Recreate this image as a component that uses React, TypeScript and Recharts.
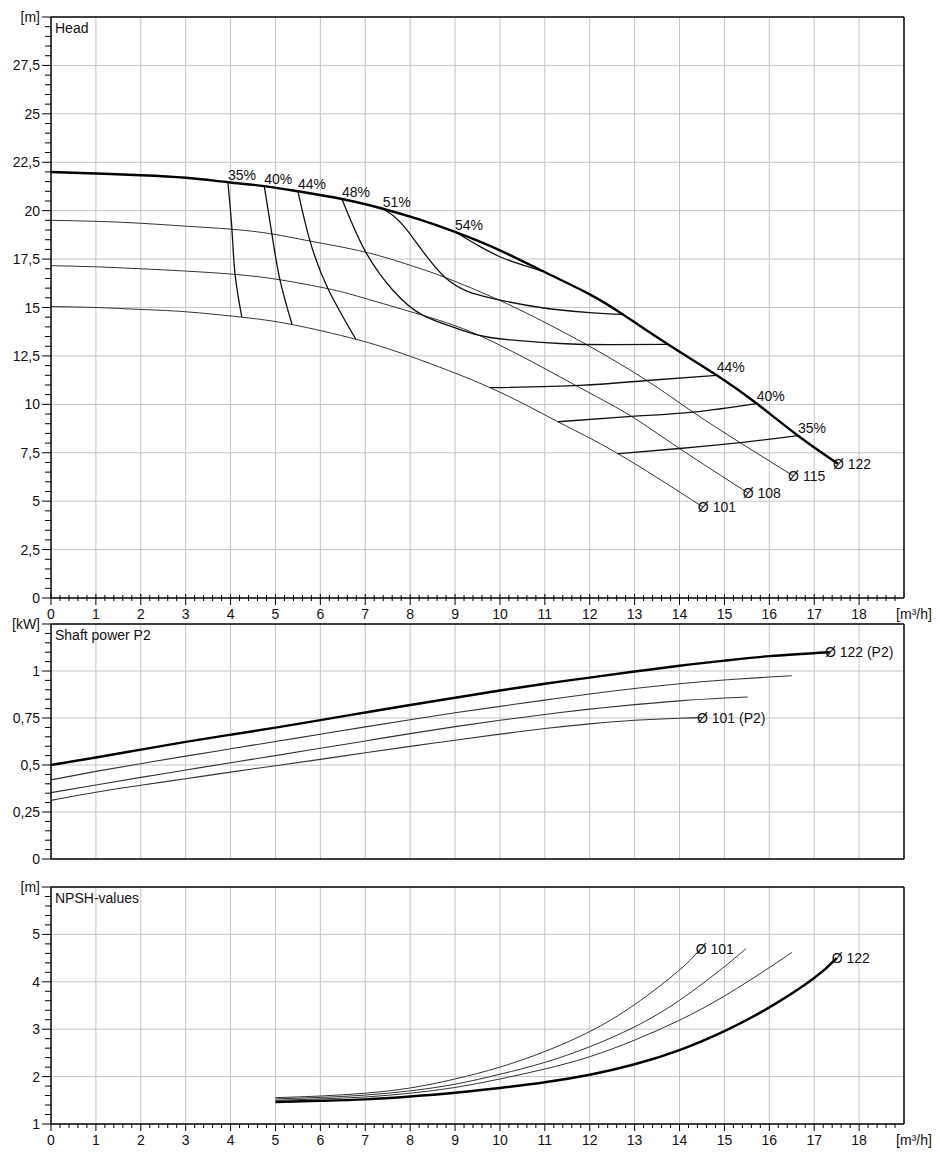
import { LineChart, Line, XAxis, YAxis, CartesianGrid, ReferenceLine } from "recharts"

type Pt = [number, number]

// Q [m³/h] -> H [m], impeller diameters
const HEAD_122: Pt[] = [[0, 22], [1, 21.92], [2, 21.83], [3, 21.7], [3.94, 21.47], [4.75, 21.27], [5.5, 21.0], [6.48, 20.6], [7.39, 20.1], [8.2, 19.55], [9, 18.9], [10, 17.95], [10.96, 16.87], [12, 15.68], [12.74, 14.64], [13.74, 13.1], [14.83, 11.5], [15.72, 10.04], [16.64, 8.38], [17.53, 6.93]]
const HEAD_115: Pt[] = [[0, 19.5], [1, 19.45], [2, 19.35], [3, 19.2], [4.03, 19.04], [4.92, 18.8], [5.77, 18.43], [7, 17.86], [8, 17.18], [8.78, 16.55], [10, 15.36], [11.05, 14.17], [12.07, 12.9], [13.27, 11.23], [14.3, 9.6], [15.35, 8.02], [16.53, 6.31]]
const HEAD_108: Pt[] = [[0, 17.16], [1, 17.1], [2, 17.0], [3, 16.88], [4.1, 16.71], [5.1, 16.43], [6.17, 15.97], [6.95, 15.5], [8.29, 14.59], [9.78, 13.3], [11.78, 10.86], [12.93, 9.38], [14, 7.72], [15.52, 5.43]]
const HEAD_101: Pt[] = [[0, 15.05], [1, 15.0], [2, 14.9], [3, 14.78], [4.25, 14.5], [5.37, 14.12], [6.79, 13.36], [8, 12.48], [9.78, 10.86], [11.29, 9.1], [12.63, 7.45], [14.52, 4.7]]

// efficiency iso-lines
const EFF_35_L: Pt[] = [[3.94, 21.47], [4.03, 19.04], [4.1, 16.71], [4.25, 14.5]]
const EFF_40_L: Pt[] = [[4.75, 21.27], [4.92, 18.8], [5.1, 16.43], [5.37, 14.12]]
const EFF_44_L: Pt[] = [[5.5, 21.0], [5.77, 18.43], [6.17, 15.97], [6.79, 13.36]]
const EFF_48: Pt[] = [[6.48, 20.6], [6.99, 17.95], [7.62, 15.88], [8.29, 14.59], [9.04, 13.92], [9.78, 13.45], [11.34, 13.14], [12.5, 13.08], [13.74, 13.1]]
const EFF_51: Pt[] = [[7.39, 20.1], [7.93, 19.0], [8.78, 16.55], [9.78, 15.5], [10.9, 15.0], [12.0, 14.74], [12.74, 14.64]]
const EFF_54: Pt[] = [[9.0, 18.9], [9.5, 18.22], [10.0, 17.62], [10.5, 17.2], [10.96, 16.87]]
const EFF_44_R: Pt[] = [[9.78, 10.86], [11.78, 10.98], [13.27, 11.23], [14.83, 11.5]]
const EFF_40_R: Pt[] = [[11.29, 9.1], [12.93, 9.38], [14.3, 9.6], [15.72, 10.04]]
const EFF_35_R: Pt[] = [[12.63, 7.45], [14.0, 7.72], [15.35, 8.02], [16.64, 8.38]]

// shaft power P2 [kW]
const P2_122: Pt[] = [[0, 0.5], [1, 0.54], [2, 0.582], [3, 0.623], [4, 0.661], [5, 0.699], [6, 0.739], [7, 0.779], [8, 0.819], [9, 0.858], [10, 0.896], [11, 0.932], [12, 0.965], [13, 0.997], [14, 1.028], [15, 1.055], [16, 1.079], [17.35, 1.1]]
const P2_115: Pt[] = [[0, 0.421], [1, 0.466], [2, 0.507], [3, 0.547], [4, 0.586], [5, 0.625], [6, 0.664], [7, 0.703], [8, 0.741], [9, 0.778], [10, 0.812], [11, 0.845], [12, 0.878], [13, 0.907], [14, 0.932], [15, 0.952], [16, 0.968], [16.5, 0.975]]
const P2_108: Pt[] = [[0, 0.353], [1, 0.394], [2, 0.434], [3, 0.473], [4, 0.512], [5, 0.55], [6, 0.589], [7, 0.628], [8, 0.667], [9, 0.704], [10, 0.738], [11, 0.769], [12, 0.797], [13, 0.821], [14, 0.841], [15, 0.856], [15.52, 0.862]]
const P2_101: Pt[] = [[0, 0.312], [1, 0.355], [2, 0.392], [3, 0.427], [4, 0.462], [5, 0.496], [6, 0.53], [7, 0.565], [8, 0.599], [9, 0.632], [10, 0.664], [11, 0.694], [12, 0.719], [13, 0.738], [14, 0.749], [14.5, 0.752]]

// NPSH [m]
const NPSH_122: Pt[] = [[5, 1.465], [6, 1.49], [7, 1.52], [8, 1.58], [9, 1.66], [10, 1.76], [11, 1.88], [12, 2.04], [13, 2.26], [14, 2.56], [15, 2.96], [16, 3.46], [17, 4.08], [17.5, 4.5]]
const NPSH_115: Pt[] = [[5, 1.5], [6, 1.53], [7, 1.57], [8, 1.65], [9, 1.77], [10, 1.95], [11, 2.16], [12, 2.42], [13, 2.77], [14, 3.19], [15, 3.7], [16, 4.3], [16.5, 4.62]]
const NPSH_108: Pt[] = [[5, 1.53], [6, 1.56], [7, 1.61], [8, 1.7], [9, 1.84], [10, 2.05], [11, 2.3], [12, 2.63], [13, 3.05], [14, 3.61], [15, 4.32], [15.48, 4.7]]
const NPSH_101: Pt[] = [[5, 1.556], [6, 1.59], [7, 1.65], [8, 1.76], [9, 1.95], [10, 2.2], [11, 2.53], [12, 2.95], [13, 3.52], [14, 4.25], [14.47, 4.7]]

const X_MAJOR = [1, 2, 3, 4, 5, 6, 7, 8, 9, 10, 11, 12, 13, 14, 15, 16, 17, 18]
const HEAD_MAJOR = [2.5, 5, 7.5, 10, 12.5, 15, 17.5, 20, 22.5, 25, 27.5]
const P2_MAJOR = [0.25, 0.5, 0.75, 1]
const NPSH_MAJOR = [2, 3, 4, 5]

const FONT = '"Liberation Sans", Arial, Helvetica, sans-serif'
const INK = "#111"
const GRID = "#c4c4c4"
const W = 940
const MARGIN_R = 36
const AXIS_W = 51

const steps = (lo: number, hi: number, step: number) => {
  const out: number[] = []
  for (let i = 0; lo + i * step <= hi + 1e-9; i++) out.push(+(lo + i * step).toFixed(3))
  return out
}
const X_TICKS = steps(0, 19, 0.2)
const rows = (pts: Pt[]) => pts.map(([q, v]) => ({ q, v }))
const near = (a: number, b: number) => Math.abs(a - b) < 1e-6

const xTick = (down: boolean) => (p: any) => {
  const { x, y, payload } = p
  const v = payload.value
  const major = near(v, Math.round(v))
  const up = down ? 0 : major ? 4 : 3
  const dn = major ? 7 : down ? 4 : 3
  return (
    <g>
      {v < 19 && <line x1={x} x2={x} y1={y - up} y2={y + dn} stroke="#000" strokeWidth={1} />}
      {major && (
        <text x={v === 19 ? x + 10 : x} y={y + 21} textAnchor="middle" fontSize={14} fontFamily={FONT} fill={INK}>
          {v === 19 ? "[m³/h]" : v}
        </text>
      )}
    </g>
  )
}

const yTick = (majorStep: number, top: number, unit: string) => (p: any) => {
  const { x, y, payload } = p
  const v = payload.value
  const major = near(v / majorStep, Math.round(v / majorStep))
  const label = near(v, top) ? unit : String(v).replace(".", ",")
  return (
    <g>
      <line x1={x - (major ? 9 : 6)} x2={x} y1={y} y2={y} stroke="#000" strokeWidth={1} />
      {major && (
        <text x={x - 11} y={y + 5} textAnchor="end" fontSize={14} fontFamily={FONT} fill={INK}>
          {label}
        </text>
      )}
    </g>
  )
}

// text at the first / last point of a series, placed via the series' own dots
const pointLabel = (text: string, at: number, dx: number, dy: number) => (p: any) =>
  p.index === at ? (
    <text key={`lbl-${text}-${p.index}`} x={p.cx + dx} y={p.cy + dy} fontSize={14} fontFamily={FONT} fill={INK}>
      {text}
    </text>
  ) : (
    <g key={`nolbl-${text}-${p.index}`} />
  )
const endLabel = (text: string, pts: Pt[]) => pointLabel(text, pts.length - 1, -5, 5)
const effStart = (text: string) => pointLabel(text, 0, 0, -2)
const effEnd = (text: string, pts: Pt[]) => pointLabel(text, pts.length - 1, 0, -3)

const vGrid = (lo: number, hi: number) => ({ xAxis, offset }: any) =>
  X_MAJOR.map((v) => {
    const s = xAxis?.scale
    const px = typeof s === "function" ? s(v) : NaN
    return Number.isFinite(px) ? px : offset.left + ((v - lo) / (hi - lo)) * offset.width
  })
const hGrid = (vals: number[], lo: number, hi: number) => ({ yAxis, offset }: any) =>
  vals.map((v) => {
    const s = yAxis?.scale
    const px = typeof s === "function" ? s(v) : NaN
    return Number.isFinite(px) ? px : offset.top + ((hi - v) / (hi - lo)) * offset.height
  })

const line = (id: string, pts: Pt[], width: number, color: string, dot: any = false, curve: any = "natural") => (
  <Line
    key={id}
    name={id}
    data={rows(pts)}
    dataKey="v"
    type={curve}
    stroke={color}
    strokeWidth={width}
    dot={dot}
    activeDot={false}
    isAnimationActive={false}
  />
)

const titleStyle = (top: number): React.CSSProperties => ({
  position: "absolute",
  left: 55,
  top,
  fontFamily: FONT,
  fontSize: 14,
  lineHeight: "16px",
  color: INK,
})

export default function App() {
  const border = { stroke: "#000", strokeWidth: 1.5 }
  return (
    <div style={{ position: "absolute", left: 0, top: 0, width: W, height: 1170, background: "#fff" }}>
      {/* Head */}
      <div style={{ position: "absolute", left: 0, top: 0 }}>
        <LineChart width={W} height={630} margin={{ top: 17, right: MARGIN_R, bottom: 0, left: 0 }}>
          <CartesianGrid stroke={GRID} verticalCoordinatesGenerator={vGrid(0, 19)} horizontalCoordinatesGenerator={hGrid(HEAD_MAJOR, 0, 30)} />
          <XAxis dataKey="q" type="number" domain={[0, 19]} ticks={X_TICKS} interval={0} tickLine={false} tickSize={0} tickMargin={0} height={32} axisLine={border} tick={xTick(false)} />
          <YAxis type="number" domain={[0, 30]} ticks={steps(0, 30, 0.5)} interval={0} tickLine={false} tickSize={0} tickMargin={0} width={AXIS_W} axisLine={border} tick={yTick(2.5, 30, "[m]")} />
          <ReferenceLine y={30} {...border} />
          <ReferenceLine x={19} {...border} />
          {line("h101", HEAD_101, 1, "#333", endLabel("Ø 101", HEAD_101))}
          {line("h108", HEAD_108, 1, "#333", endLabel("Ø 108", HEAD_108))}
          {line("h115", HEAD_115, 1, "#333", endLabel("Ø 115", HEAD_115))}
          {line("e35l", EFF_35_L, 1.3, "#111", effStart("35%"))}
          {line("e40l", EFF_40_L, 1.3, "#111", effStart("40%"))}
          {line("e44l", EFF_44_L, 1.3, "#111", effStart("44%"))}
          {line("e48", EFF_48, 1.3, "#111", effStart("48%"))}
          {line("e51", EFF_51, 1.3, "#111", effStart("51%"))}
          {line("e54", EFF_54, 1.3, "#111", effStart("54%"))}
          {line("e44r", EFF_44_R, 1.3, "#111", effEnd("44%", EFF_44_R))}
          {line("e40r", EFF_40_R, 1.3, "#111", effEnd("40%", EFF_40_R))}
          {line("e35r", EFF_35_R, 1.3, "#111", effEnd("35%", EFF_35_R))}
          {line("h122", HEAD_122, 2.4, "#000", endLabel("Ø 122", HEAD_122))}
        </LineChart>
      </div>
      <div style={titleStyle(20)}>Head</div>

      {/* Shaft power */}
      <div style={{ position: "absolute", left: 0, top: 607 }}>
        <LineChart width={W} height={262} margin={{ top: 17, right: MARGIN_R, bottom: 10, left: 0 }}>
          <CartesianGrid stroke={GRID} verticalCoordinatesGenerator={vGrid(0, 19)} horizontalCoordinatesGenerator={hGrid(P2_MAJOR, 0, 1.25)} />
          <XAxis dataKey="q" type="number" domain={[0, 19]} hide />
          <YAxis type="number" domain={[0, 1.25]} ticks={steps(0, 1.25, 0.05)} interval={0} tickLine={false} tickSize={0} tickMargin={0} width={AXIS_W} axisLine={border} tick={yTick(0.25, 1.25, "[kW]")} />
          <ReferenceLine y={1.25} {...border} />
          <ReferenceLine y={0} {...border} />
          <ReferenceLine x={19} {...border} />
          {line("p101", P2_101, 1.1, "#333", endLabel("Ø 101 (P2)", P2_101))}
          {line("p108", P2_108, 1.1, "#333")}
          {line("p115", P2_115, 1.1, "#333")}
          {line("p122", P2_122, 2.4, "#000", endLabel("Ø 122 (P2)", P2_122))}
        </LineChart>
      </div>
      <div style={titleStyle(627)}>Shaft power P2</div>

      {/* NPSH */}
      <div style={{ position: "absolute", left: 0, top: 870 }}>
        <LineChart width={W} height={286} margin={{ top: 17, right: MARGIN_R, bottom: 0, left: 0 }}>
          <CartesianGrid stroke={GRID} verticalCoordinatesGenerator={vGrid(0, 19)} horizontalCoordinatesGenerator={hGrid(NPSH_MAJOR, 1, 6)} />
          <XAxis dataKey="q" type="number" domain={[0, 19]} ticks={X_TICKS} interval={0} tickLine={false} tickSize={0} tickMargin={0} height={32} axisLine={border} tick={xTick(true)} />
          <YAxis type="number" domain={[1, 6]} ticks={steps(1, 6, 0.2)} interval={0} tickLine={false} tickSize={0} tickMargin={0} width={AXIS_W} axisLine={border} tick={yTick(1, 6, "[m]")} />
          <ReferenceLine y={6} {...border} />
          <ReferenceLine x={19} {...border} />
          {line("n101", NPSH_101, 1, "#333", endLabel("Ø 101", NPSH_101))}
          {line("n108", NPSH_108, 1, "#333")}
          {line("n115", NPSH_115, 1, "#333")}
          {line("n122", NPSH_122, 2.4, "#000", endLabel("Ø 122", NPSH_122))}
        </LineChart>
      </div>
      <div style={titleStyle(890)}>NPSH-values</div>
    </div>
  )
}
